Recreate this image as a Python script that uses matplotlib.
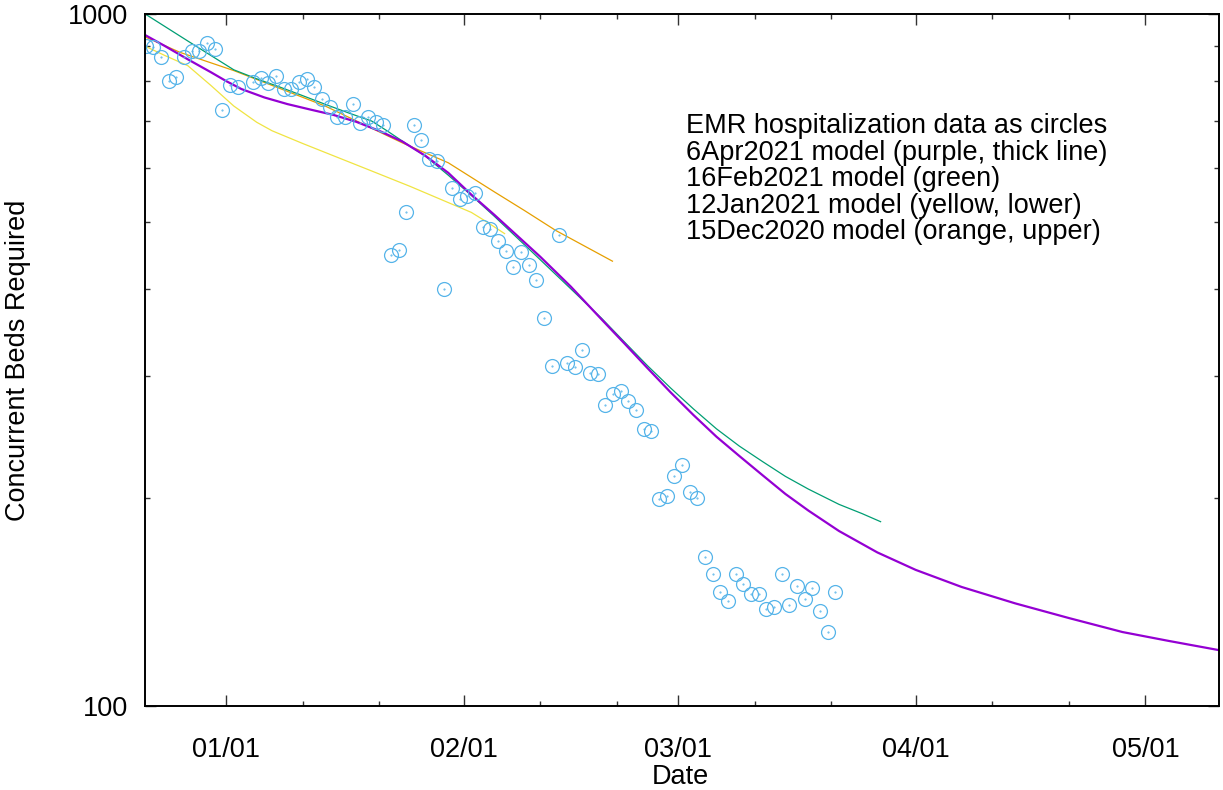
import numpy as np
import pandas as pd
import matplotlib
matplotlib.use("Agg")
import matplotlib.pyplot as plt
import matplotlib.dates as mdates
from matplotlib.ticker import FixedLocator, NullFormatter, FixedFormatter

plt.rcParams['font.family'] = ['Liberation Sans', 'DejaVu Sans']

# ---- EMR hospitalization data (daily, from 2020-12-21) ----
hosp_first_day = '2020-12-21 12:00'
hosp_beds = [900, 897, 867, 801, 810, 868, 885, 884, 908, 889,
             727, 789, 784, np.nan, 798, 808, 796, 814, 778, 778,
             797, 806, 784, 753, 733, 709, 710, 740, 696, 710,
             698, 691, 448, 456, 517, 691, 657, 617, 614, 400,
             561, 540, 546, 551, 492, 489, 470, 455, 431, 453,
             434, 413, 364, 310, 479, 313, 309, 327, 303, 302,
             272, 282, 285, 276, 268, 251, 250, 199, 201, 215,
             223, 204, 200, 164, 155, 146, 142, 155, 150, 145,
             145, 138, 139, 155, 140, 149, 143, 148, 137, 128, 146]

# ---- model curves ----
apr6_dates = ['2020-12-21', '2020-12-24', '2020-12-27', '2020-12-30', '2021-01-01',
              '2021-01-03', '2021-01-06', '2021-01-09', '2021-01-12', '2021-01-15',
              '2021-01-18', '2021-01-21', '2021-01-24', '2021-01-27', '2021-01-30',
              '2021-02-02', '2021-02-05', '2021-02-08', '2021-02-11', '2021-02-15',
              '2021-02-19', '2021-02-22', '2021-02-25', '2021-02-28', '2021-03-03',
              '2021-03-06', '2021-03-09', '2021-03-12', '2021-03-15', '2021-03-18',
              '2021-03-22', '2021-03-27', '2021-04-01', '2021-04-07', '2021-04-14',
              '2021-04-21', '2021-04-28', '2021-05-04', '2021-05-11']
apr6_beds = [938, 899, 860, 824, 800, 779, 757.5, 741, 727.6, 714.8,
             698.5, 677.8, 654.2, 624, 589.4, 548.3, 512.7, 478.2, 445.9, 403.6,
             362, 334, 307.8, 284.1, 263.3, 245, 229.7, 215.6, 202.5, 191.6,
             179, 166.7, 157.3, 148.6, 140.7, 134, 127.9, 124.2, 120.2]

feb16_dates = ['2020-12-21', '2020-12-27', '2021-01-02', '2021-01-05', '2021-01-08',
               '2021-01-11', '2021-01-14', '2021-01-17', '2021-01-20', '2021-01-22',
               '2021-01-24', '2021-01-27', '2021-01-30', '2021-02-02', '2021-02-05',
               '2021-02-10', '2021-02-15', '2021-02-19', '2021-02-22', '2021-02-25',
               '2021-02-28', '2021-03-03', '2021-03-06', '2021-03-09', '2021-03-12',
               '2021-03-15', '2021-03-18', '2021-03-22', '2021-03-25', '2021-03-27 12:00']
feb16_beds = [1007, 914, 830.5, 806, 784.3, 762, 740, 719.4, 700.3, 678,
              655.2, 623.2, 584.8, 547, 510.2, 452.3, 400.6, 363.4, 335.7, 310.3,
              288.2, 268.7, 251.5, 237.4, 225.6, 214.7, 205.8, 195.6, 189.7, 184.5]

jan12_dates = ['2020-12-21', '2020-12-24', '2020-12-27', '2020-12-30', '2021-01-02',
               '2021-01-05', '2021-01-07', '2021-01-11', '2021-01-15', '2021-01-20',
               '2021-01-25', '2021-01-30', '2021-02-02', '2021-02-04', '2021-02-06 10:00']
jan12_beds = [903, 871, 842, 788.6, 736.2, 697.4, 678, 649.9, 624, 593.1,
              563.6, 533.9, 516.8, 500.8, 481]

dec15_dates = ['2020-12-21', '2020-12-26', '2021-01-02', '2021-01-08', '2021-01-14',
               '2021-01-19', '2021-01-24', '2021-01-30', '2021-02-05', '2021-02-09',
               '2021-02-13', '2021-02-20 12:00']
dec15_beds = [931, 880, 828.4, 780.7, 735.6, 692.1, 651.3, 609.5, 553.4, 519.5,
              486.8, 438.9]

legend_lines = ['EMR hospitalization data as circles',
                '6Apr2021 model (purple, thick line)',
                '16Feb2021 model (green)',
                '12Jan2021 model (yellow, lower)',
                '15Dec2020 model (orange, upper)']

major_ticks = ['2021-01-01', '2021-02-01', '2021-03-01', '2021-04-01', '2021-05-01']


def to_dt(lst):
    return pd.to_datetime(lst, format='mixed')


# ---- figure ----
W, H = 1223, 790
fig = plt.figure(figsize=(W / 100, H / 100), dpi=100)
L, R, T, B = 145, 1219, 14, 706
ax = fig.add_axes([L / W, 1 - B / H, (R - L) / W, (B - T) / H])

hosp_dates = pd.date_range(hosp_first_day, periods=len(hosp_beds), freq='D')

line_kw = dict(solid_joinstyle='round', solid_capstyle='butt')
ax.plot(to_dt(dec15_dates), dec15_beds, color='#e69f00', lw=0.9, **line_kw)
ax.plot(to_dt(jan12_dates), jan12_beds, color='#f0e442', lw=0.9, **line_kw)
ax.plot(to_dt(feb16_dates), feb16_beds, color='#009e73', lw=0.9, **line_kw)
ax.plot(to_dt(apr6_dates), apr6_beds, color='#9400d3', lw=1.6, **line_kw)
ax.plot(hosp_dates, hosp_beds, linestyle='none', marker='o', ms=10,
        mfc='none', mec='#56b4e9', mew=0.9)
ax.plot(hosp_dates, hosp_beds, linestyle='none', marker='.', ms=1.0,
        color='#56b4e9')

ax.set_yscale('log')

ax.yaxis.set_major_locator(FixedLocator([100, 1000]))
ax.yaxis.set_major_formatter(FixedFormatter(['100', '1000']))
ax.yaxis.set_minor_locator(FixedLocator([200, 300, 400, 500, 600, 700, 800, 900]))
ax.yaxis.set_minor_formatter(NullFormatter())

x_lo = pd.Timestamp('2020-12-21 09:50')
x_hi = pd.Timestamp('2021-05-10 14:20')
maj = to_dt(major_ticks)
ax.set_xticks(maj)
ax.xaxis.set_major_formatter(mdates.DateFormatter('%m/%d'))
minor = []
for m in maj:
    for k in (10, 20):
        t = m + pd.Timedelta(days=k)
        if t < x_hi:
            minor.append(t)
ax.set_xticks(minor, minor=True)

ax.set_ylim(100, 1000)
ax.set_xlim(x_lo, x_hi)

ax.tick_params(which='both', direction='in', top=True, right=True,
               labelsize=19.5, color='#333333')
ax.tick_params(axis='x', which='major', length=8, width=1.0, pad=22)
ax.tick_params(axis='x', which='minor', length=3.7, width=1.0)
ax.tick_params(axis='y', which='major', length=8, width=1.0, pad=12)
ax.tick_params(axis='y', which='minor', length=3.7, width=1.0)

for s in ax.spines.values():
    s.set_linewidth(1.4)
    s.set_color('black')

ax.set_xlabel('Date', fontsize=19.5)
ax.xaxis.label.set_va('center')
ax.xaxis.set_label_coords((680 - L) / (R - L), (B - 777) / (B - T))
ax.set_ylabel('Concurrent Beds Required', fontsize=19.5)
ax.yaxis.label.set_va('center')
ax.yaxis.set_label_coords((18 - L) / (R - L), 0.5)

for i, line in enumerate(legend_lines):
    y_px = 133 + i * 26.6
    ax.text((686 - L) / (R - L), (B - y_px) / (B - T), line,
            transform=ax.transAxes, fontsize=19.5, ha='left', va='baseline')

fig.savefig('out.png', dpi=100)
